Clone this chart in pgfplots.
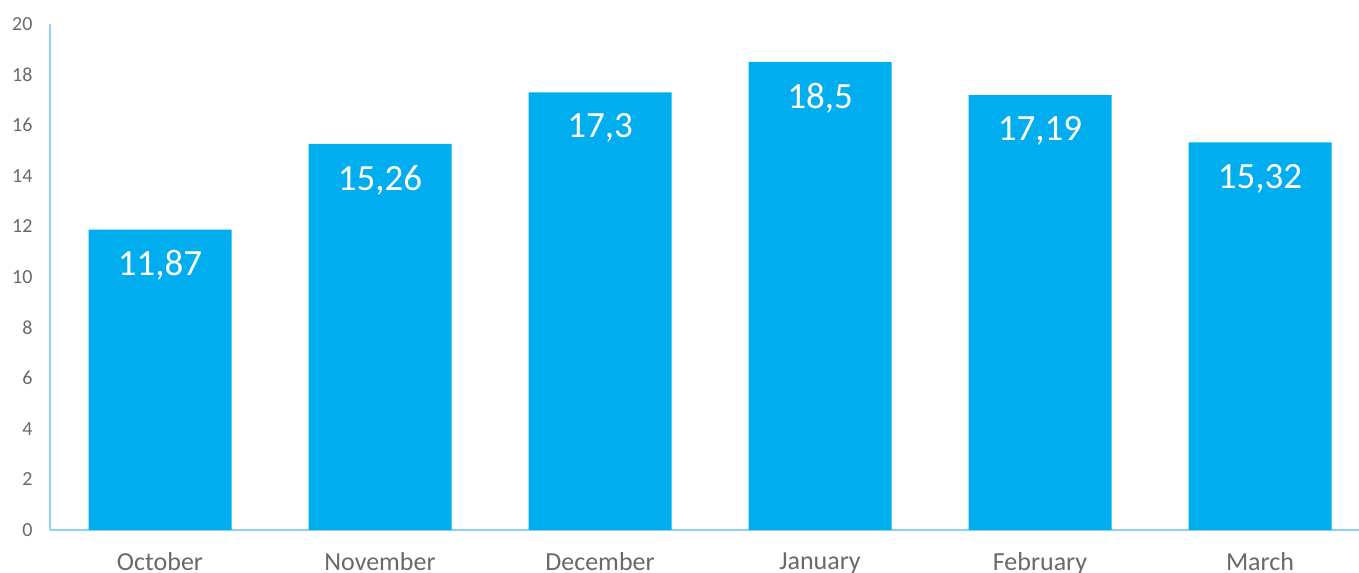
\documentclass[border=0pt]{standalone}
\usepackage{fontspec}
\setmainfont{Carlito}
\usepackage{pgfplots}
\pgfplotsset{compat=1.18}
\definecolor{barblue}{RGB}{0,174,239}
\definecolor{axblue}{RGB}{140,210,240}
\definecolor{tickgray}{RGB}{105,105,105}
\begin{document}
\begin{tikzpicture}
\begin{axis}[
  scale only axis, width=1309pt, height=506pt,
  xmin=-0.5, xmax=5.45, ymin=0, ymax=20,
  ytick={0,2,...,20},
  xtick={0,1,2,3,4,5},
  xticklabels={October,November,December,January,February,March},
  axis x line*=bottom, axis y line*=left,
  axis line style={axblue, line width=1.5pt, -},
  major tick length=0pt,
  /pgf/number format/assume math mode=true,
  /pgf/number format/use comma,
  yticklabel style={font=\fontsize{20}{22}\selectfont, text=tickgray, xshift=-14pt},
  xticklabel style={font=\fontsize{26}{28}\selectfont, text=tickgray, yshift=-19pt},
  ybar, bar width=143pt,
  nodes near coords,
  every node near coord/.append style={font=\fontsize{37}{40}\selectfont, text=white, anchor=center, yshift=-36pt},
  clip=false,
]
\addplot[fill=barblue, draw=none] coordinates {(0,11.87) (1,15.26) (2,17.3) (3,18.5) (4,17.19) (5,15.32)};
\end{axis}
\pgfresetboundingbox
\path ([xshift=-50pt,yshift=-43pt]current axis.south west) rectangle ([yshift=24pt]current axis.north east);
\end{tikzpicture}
\end{document}
